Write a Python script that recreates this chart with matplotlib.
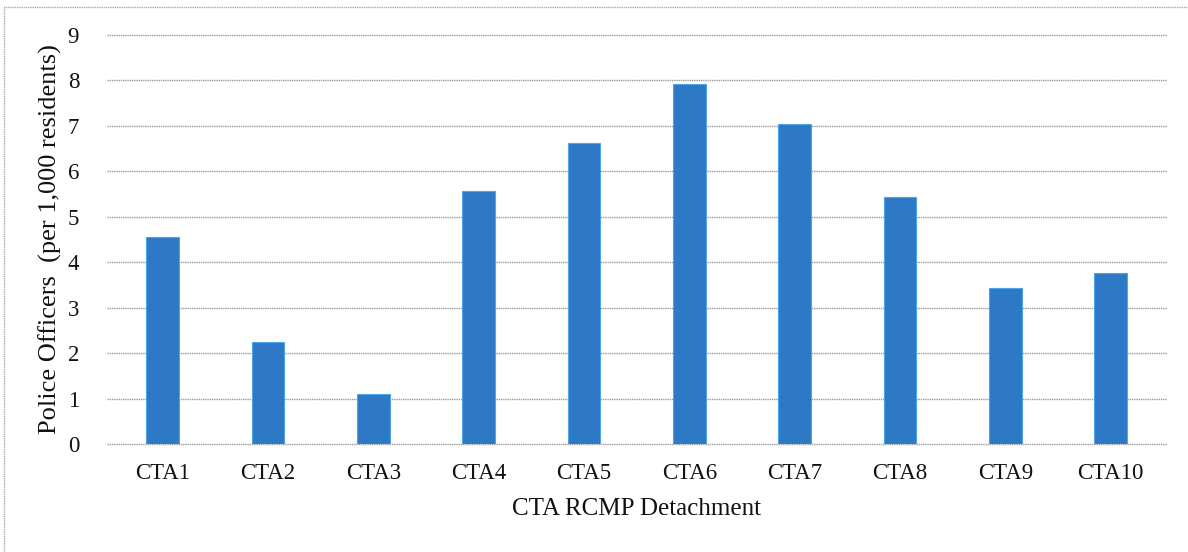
import numpy as np
import matplotlib.pyplot as plt
from matplotlib.patches import Rectangle

# police officers per 1,000 residents by detachment
detachments = ["CTA1", "CTA2", "CTA3", "CTA4", "CTA5", "CTA6", "CTA7", "CTA8", "CTA9", "CTA10"]
officers = [4.55, 2.25, 1.1, 5.57, 6.63, 7.92, 7.04, 5.43, 3.44, 3.76]
yticks = [0, 1, 2, 3, 4, 5, 6, 7, 8, 9]

plt.rcParams['font.family'] = ['Liberation Serif', 'DejaVu Serif']

fig = plt.figure(figsize=(11.88, 5.52), dpi=100)
ax = fig.add_axes([0.090, 0.1957, 0.892, 0.741])

x = np.arange(len(detachments))
ax.bar(x, officers, width=0.31, color="#2e79c5", edgecolor="#4ea6ea", linewidth=0.8, zorder=3)

ax.set_xlim(-0.53, len(detachments) - 0.47)
ax.set_ylim(0, 9)
ax.set_yticks(yticks)
ax.set_xticks(x)
ax.set_xticklabels(detachments)
ax.tick_params(axis='both', length=0, labelsize=16.5, colors="#111111")
ax.tick_params(axis='x', pad=14)
ax.tick_params(axis='y', pad=20)

# dotted grey gridlines, the bottom one doubles as the axis line
ax.grid(axis='y', color="#9a9a9a", linestyle=(0, (1, 0.6)), linewidth=1.0, zorder=0)
for gl in ax.get_ygridlines():
    gl.set_clip_on(False)
for s in ax.spines.values():
    s.set_visible(False)

ax.set_ylabel("Police Officers  (per 1,000 residents)", fontsize=19, color="#111111", labelpad=4)
ax.set_xlabel("CTA RCMP Detachment", fontsize=18, color="#111111", labelpad=10)

# thin frame around the chart area
fig.patches.append(Rectangle((4 / 1188, -0.05), 1.1, 1 - 7 / 552 + 0.05, transform=fig.transFigure,
                             fill=False, edgecolor="#aaaaaa", linewidth=1.0, linestyle=(0, (1, 0.6))))

fig.savefig("out.png", dpi=100)
